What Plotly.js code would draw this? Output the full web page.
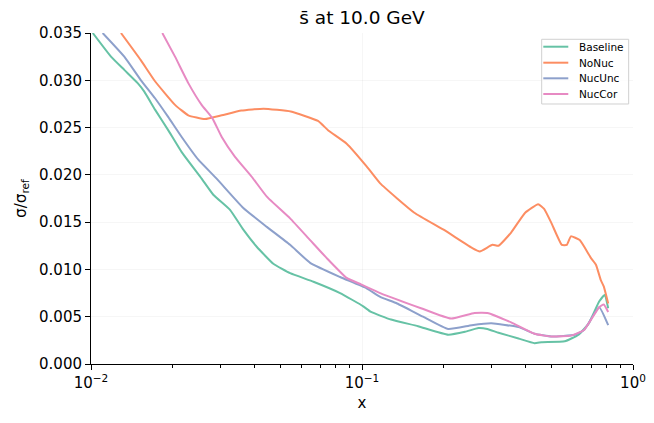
<!DOCTYPE html>
<html>
<head>
<meta charset="utf-8">
<script src="https://cdn.plot.ly/plotly-3.0.1.min.js"></script>
<style>
  html, body { margin: 0; padding: 0; background: #fff; }
  #chart { width: 654px; height: 423px; }
</style>
</head>
<body>
<div id="chart"></div>
<script>
// values
const xBaseline = [0.01015, 0.01185, 0.01327, 0.01487, 0.01573, 0.01723, 0.01929, 0.02161, 0.0256, 0.02826, 0.03259, 0.03648, 0.04088, 0.04709, 0.05428, 0.0662, 0.0830, 0.1011, 0.108, 0.128, 0.161, 0.208, 0.240, 0.269, 0.290, 0.319, 0.378, 0.433, 0.46, 0.56, 0.63, 0.687, 0.75, 0.786, 0.81]
const yBaseline = [0.0350, 0.0325, 0.0311, 0.0297, 0.0288, 0.0269, 0.0247, 0.0224, 0.0196, 0.0179, 0.0163, 0.0142, 0.0124, 0.0106, 0.0096, 0.0087, 0.0075, 0.0061, 0.0055, 0.0047, 0.0040, 0.0031, 0.0034, 0.0038, 0.0037, 0.0033, 0.0027, 0.0022, 0.0023, 0.0024, 0.0031, 0.0043, 0.0066, 0.0073, 0.0059]

const xNoNuc = [0.0129, 0.01529, 0.01723, 0.02042, 0.02286, 0.02633, 0.03037, 0.0359, 0.0433, 0.0546, 0.0688, 0.0751, 0.0878, 0.104, 0.1167, 0.156, 0.20, 0.254, 0.272, 0.303, 0.319, 0.355, 0.40, 0.4467, 0.47, 0.50, 0.546, 0.57, 0.59, 0.636, 0.70, 0.73, 0.76, 0.78, 0.81]
const yNoNuc = [0.0350, 0.0321, 0.0299, 0.0274, 0.0263, 0.0259, 0.0263, 0.0268, 0.0270, 0.0267, 0.0257, 0.0247, 0.0233, 0.0209, 0.0191, 0.0160, 0.0142, 0.0123, 0.0119, 0.0126, 0.0125, 0.0139, 0.0160, 0.0169, 0.0164, 0.0149, 0.0126, 0.0126, 0.0135, 0.0131, 0.0112, 0.0105, 0.0089, 0.0082, 0.0064]

const xNucUnc = [0.01104, 0.01327, 0.01529, 0.01723, 0.01929, 0.02161, 0.02489, 0.02908, 0.03648, 0.04454, 0.05428, 0.06436, 0.0830, 0.1040, 0.1167, 0.1347, 0.168, 0.208, 0.254, 0.30, 0.378, 0.433, 0.50, 0.61, 0.66, 0.75, 0.81]
const yNucUnc = [0.0350, 0.0325, 0.0300, 0.0281, 0.0261, 0.0240, 0.0216, 0.0196, 0.0165, 0.0145, 0.0126, 0.0107, 0.0092, 0.0080, 0.0071, 0.0064, 0.0050, 0.0037, 0.0041, 0.0043, 0.0039, 0.0032, 0.0029, 0.0031, 0.0036, 0.0060, 0.0041]

const xNucCor = [0.01833, 0.02042, 0.02286, 0.0256, 0.02803, 0.03037, 0.03399, 0.03918, 0.04454, 0.05428, 0.06436, 0.0741, 0.0878, 0.0995, 0.1167, 0.165, 0.213, 0.26, 0.29, 0.355, 0.433, 0.50, 0.59, 0.66, 0.75, 0.78, 0.81]
const yNucCor = [0.0350, 0.0325, 0.0297, 0.0274, 0.0260, 0.0240, 0.0219, 0.0198, 0.0177, 0.0154, 0.0131, 0.0112, 0.0091, 0.0084, 0.0075, 0.0059, 0.0048, 0.0054, 0.0054, 0.0044, 0.0032, 0.0029, 0.0030, 0.0036, 0.0060, 0.0063, 0.0055]

const xTickVals = [0.01, 0.1, 1]
const xTickText = ['10<sup>−2</sup>', '10<sup>−1</sup>', '10<sup>0</sup>']
const xMinorVals = [0.02, 0.03, 0.04, 0.05, 0.06, 0.07, 0.08, 0.09, 0.2, 0.3, 0.4, 0.5, 0.6, 0.7, 0.8, 0.9]

const series = [
  { name: 'Baseline', x: xBaseline, y: yBaseline, color: '#66c2a5', xaxis: 'x' },
  { name: 'NoNuc', x: xNoNuc, y: yNoNuc, color: '#fc8d62', xaxis: 'x' },
  { name: 'NucUnc', x: xNucUnc, y: yNucUnc, color: '#8da0cb', xaxis: 'x' },
  // last series sits on the twin axis (same log scale) so the minor-tick axis is drawn
  { name: 'NucCor', x: xNucCor, y: yNucCor, color: '#e78ac3', xaxis: 'x2' }
]

const data = series.map(function(s) {
  return {
    name: s.name,
    x: s.x,
    y: s.y,
    xaxis: s.xaxis,
    yaxis: 'y',
    type: 'scatter',
    mode: 'lines',
    line: { color: s.color, width: 2, shape: 'spline', smoothing: 0.4 },
    showlegend: false
  }
})

const font = { family: 'DejaVu Sans, sans-serif', color: '#000' }

// legend box drawn like the matplotlib one (tighter rows than plotly allows)
const legendBox = { x0: 0.8315, x1: 0.992, y0: 0.7855, y1: 0.981 }
const legendRows = [0.9586, 0.9103, 0.8631, 0.8157]
const shapes = [{
  type: 'rect', xref: 'paper', yref: 'paper',
  x0: legendBox.x0, x1: legendBox.x1, y0: legendBox.y0, y1: legendBox.y1,
  line: { color: '#d0d0d0', width: 1 }, fillcolor: 'rgba(255,255,255,0.8)', layer: 'above'
}]
const annotations = []
series.forEach(function(s, i) {
  shapes.push({
    type: 'line', xref: 'paper', yref: 'paper',
    x0: 0.8345, x1: 0.8806, y0: legendRows[i], y1: legendRows[i],
    line: { color: s.color, width: 2 }, layer: 'above'
  })
  annotations.push({
    xref: 'paper', yref: 'paper', x: 0.8961, y: legendRows[i],
    xanchor: 'left', yanchor: 'middle', showarrow: false,
    text: s.name, font: Object.assign({ size: 10.5 }, font)
  })
})

const layout = {
  width: 654,
  height: 423,
  margin: { l: 91, r: 21, t: 33, b: 59 },
  paper_bgcolor: '#fff',
  plot_bgcolor: '#fff',
  font: Object.assign({ size: 15 }, font),
  title: {
    text: 's̄ at 10.0 GeV',
    font: Object.assign({ size: 18.5 }, font),
    xref: 'paper', x: 0.5, xanchor: 'center',
    yref: 'container', y: 1 - 18 / 423, yanchor: 'middle'
  },
  xaxis: {
    type: 'log',
    range: [-2, 0],
    tickmode: 'array',
    tickvals: xTickVals,
    ticktext: xTickText,
    ticks: 'outside', ticklen: 5, tickcolor: '#000',
    showline: true, linecolor: '#000', linewidth: 1,
    showgrid: true, gridcolor: 'rgba(0,0,0,0.035)',
    zeroline: false,
    tickfont: Object.assign({ size: 15 }, font),
    title: { text: 'x', font: Object.assign({ size: 15 }, font), standoff: 6 }
  },
  // minor log ticks, same scale as the main x axis
  xaxis2: {
    type: 'log',
    range: [-2, 0],
    overlaying: 'x',
    anchor: 'y',
    side: 'bottom',
    tickmode: 'array',
    tickvals: xMinorVals,
    showticklabels: false,
    ticks: 'outside', ticklen: 3, tickcolor: '#000',
    showline: false, showgrid: false, zeroline: false
  },
  yaxis: {
    range: [0, 0.035],
    dtick: 0.005,
    tickformat: '.3f',
    ticks: 'outside', ticklen: 5, tickcolor: '#000',
    showline: true, linecolor: '#000', linewidth: 1,
    showgrid: true, gridcolor: 'rgba(0,0,0,0.035)',
    zeroline: false,
    tickfont: Object.assign({ size: 15 }, font),
    title: { text: 'σ/σ<sub>ref</sub>', font: Object.assign({ size: 15 }, font), standoff: 8 }
  },
  showlegend: false,
  shapes: shapes,
  annotations: annotations
}

const config = { responsive: false, displayModeBar: false, staticPlot: true }

Plotly.newPlot(document.getElementById('chart'), data, layout, config)
</script>
</body>
</html>
